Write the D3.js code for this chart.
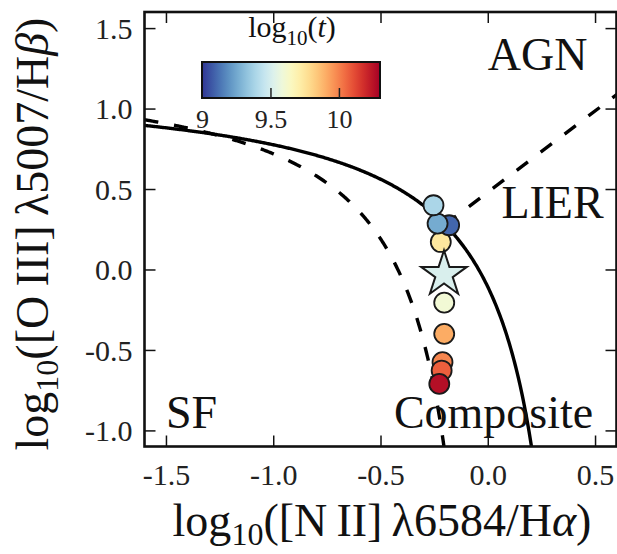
<!DOCTYPE html>
<html>
<head>
<meta charset="utf-8">
<script src="https://cdn.jsdelivr.net/npm/d3@7"></script>
<style>
  body { margin: 0; background: #fff; }
  svg { display: block; }
</style>
</head>
<body>
<svg id="chart" width="617" height="554"></svg>
<script>
// Model snapshots on the BPT diagram, coloured by log10 age
const logNII  = [-0.219, -0.180, -0.234, -0.253, -0.203, -0.203, -0.211, -0.215, -0.226];
const logOIII = [ 0.171,  0.275,  0.285,  0.399, -0.206, -0.400, -0.576, -0.628, -0.711];
const logAge  = [ 9.74,   9.10,   9.26,   9.39,   9.60,   9.91,   9.99,  10.07,  10.26];

// Highlighted snapshot (star)
const starNII  = [-0.204];
const starOIII = [-0.030];
const starAge  = [ 9.51];

// Demarcation lines: y = a / (x - b) + c, and the straight LIER line y = m x + q
const kewley2001    = [0.61, 0.47, 1.19];
const kauffmann2003 = [0.61, 0.05, 1.30];
const lierLine      = [1.01, 0.48];

const xTicks = [-1.5, -1.0, -0.5, 0.0, 0.5];
const yTicks = [-1.0, -0.5, 0.0, 0.5, 1.0, 1.5];
const cbarTicks = [9, 9.5, 10];
const cbarTickLabels = ["9", "9.5", "10"];
const cbarDomain = [9.0, 10.3];

const regionNames = ["AGN", "LIER", "SF", "Composite"];

const svg = d3.select("#chart");
const serif = "'Liberation Serif', 'DejaVu Serif', serif";

const L = 144.5, R = 616.5, T = 12, B = 446.5;
const x = d3.scaleLinear().domain([-1.6, 0.6]).range([L, R]);
const y = d3.scaleLinear().domain([-1.1, 1.6]).range([B, T]);

const cmap = t => d3.interpolateRdYlBu(1 - t);
const color = d3.scaleSequential(cmap).domain(cbarDomain);

svg.append("defs").append("clipPath").attr("id", "plot-clip")
  .append("rect").attr("x", L).attr("y", T).attr("width", R - L).attr("height", B - T);

const plot = svg.append("g").attr("clip-path", "url(#plot-clip)");

// --- demarcation curves
function hyperbola(p, x0, x1, n) {
  const pts = [];
  for (let i = 0; i <= n; i++) {
    const xv = x0 + (x1 - x0) * i / n;
    pts.push([xv, p[0] / (xv - p[1]) + p[2]]);
  }
  return pts;
}
const line = d3.line().x(d => x(d[0])).y(d => y(d[1]));

// end points just below the bottom of the frame
const yBottom = y.domain()[0];
const kewEnd = kewley2001[1] + kewley2001[0] / (yBottom - 0.02 - kewley2001[2]);
const kauEnd = kauffmann2003[1] + kauffmann2003[0] / (yBottom - 0.02 - kauffmann2003[2]);

plot.append("path")
  .attr("d", line(hyperbola(kauffmann2003, -1.6, kauEnd, 400)))
  .attr("fill", "none").attr("stroke", "#000").attr("stroke-width", 3.4)
  .attr("stroke-dasharray", "14,16");

plot.append("path")
  .attr("d", line(hyperbola(kewley2001, -1.6, kewEnd, 400)))
  .attr("fill", "none").attr("stroke", "#000").attr("stroke-width", 3.4);

// LIER line starts where it meets the Kewley curve
{
  const [a, b, c] = kewley2001, [m, q] = lierLine;
  // a/(x-b)+c = m x + q  ->  m x^2 + (q - c - m b) x + (c b - q b - a) = 0
  const A = m, Bq = q - c - m * b, C = c * b - q * b - a;
  const xs = (-Bq - Math.sqrt(Bq * Bq - 4 * A * C)) / (2 * A);
  plot.append("path")
    .attr("d", line([[xs, m * xs + q], [0.7, m * 0.7 + q]]))
    .attr("fill", "none").attr("stroke", "#000").attr("stroke-width", 3.4)
    .attr("stroke-dasharray", "14,16");
}

// --- region names (centre x, baseline y in data units)
const regionPos = [[0.232, 1.24], [0.302, 0.318], [-1.381, -0.982], [0.027, -0.982]];
svg.append("g").selectAll("text").data(regionNames).join("text")
  .attr("x", (d, i) => x(regionPos[i][0]))
  .attr("y", (d, i) => y(regionPos[i][1]))
  .attr("text-anchor", "middle")
  .attr("font-family", serif).attr("font-size", 46).attr("fill", "#111")
  .text(d => d);

// --- snapshots
plot.append("g").selectAll("circle").data(logNII).join("circle")
  .attr("cx", (d, i) => x(logNII[i]))
  .attr("cy", (d, i) => y(logOIII[i]))
  .attr("r", 10)
  .attr("fill", (d, i) => color(logAge[i]))
  .attr("stroke", "#1a1a1a").attr("stroke-width", 1.8);

const starR = 24;
plot.append("g").selectAll("path").data(starNII).join("path")
  .attr("d", d3.symbol(d3.symbolStar, starR * starR / 0.8908130915292852)())
  .attr("transform", (d, i) => `translate(${x(starNII[i])},${y(starOIII[i])})`)
  .attr("fill", (d, i) => color(starAge[i]))
  .attr("stroke", "#1a1a1a").attr("stroke-width", 2);

// --- axes with inward ticks on all four sides
const fmt = d => d.toFixed(1);
function styleAxis(g) {
  g.select(".domain").remove();
  g.selectAll(".tick line").attr("stroke", "#111").attr("stroke-width", 1.5);
  g.selectAll(".tick text").attr("font-family", serif).attr("font-size", 30).attr("fill", "#222");
}
svg.append("g").attr("transform", `translate(0,${B})`)
  .call(d3.axisBottom(x).tickValues(xTicks).tickFormat(fmt).tickSize(-11).tickPadding(0))
  .call(styleAxis)
  .call(g => g.selectAll(".tick text").attr("y", 38).attr("dy", 0));
svg.append("g").attr("transform", `translate(0,${T})`)
  .call(d3.axisTop(x).tickValues(xTicks).tickFormat("").tickSize(-11))
  .call(styleAxis);
svg.append("g").attr("transform", `translate(${L},0)`)
  .call(d3.axisLeft(y).tickValues(yTicks).tickFormat(fmt).tickSize(-11).tickPadding(12))
  .call(styleAxis)
  .call(g => g.selectAll(".tick text").attr("dy", "0.34em"));
svg.append("g").attr("transform", `translate(${R},0)`)
  .call(d3.axisRight(y).tickValues(yTicks).tickFormat("").tickSize(-11))
  .call(styleAxis);

svg.append("rect").attr("x", L).attr("y", T).attr("width", R - L).attr("height", B - T)
  .attr("fill", "none").attr("stroke", "#111").attr("stroke-width", 2.6);

// --- axis titles
function mathLabel(sel, parts, subSize, shift) {
  parts.forEach(p => {
    const t = sel.append("tspan").text(p.t);
    if (p.sub) t.attr("font-size", subSize).attr("dy", shift);
    if (p.up) t.attr("dy", -shift);
    if (p.it) t.attr("font-style", "italic");
  });
}
const xl = svg.append("text").attr("x", 382).attr("y", 536)
  .attr("text-anchor", "middle").attr("font-family", serif).attr("font-size", 46).attr("fill", "#111");
mathLabel(xl, [{t: "log"}, {t: "10", sub: true}, {t: "([N\u2009II]\u2009\u03bb6584/H", up: true}, {t: "\u03b1", it: true}, {t: ")"}], 32, 9);

const yl = svg.append("text").attr("transform", "translate(48,234) rotate(-90)")
  .attr("text-anchor", "middle").attr("font-family", serif).attr("font-size", 46).attr("fill", "#111");
mathLabel(yl, [{t: "log"}, {t: "10", sub: true}, {t: "([O\u2009III]\u2009\u03bb5007/H", up: true}, {t: "\u03b2", it: true}, {t: ")"}], 32, 10);

// --- colour bar
const cbX0 = 202, cbX1 = 380, cbY0 = 62, cbY1 = 98;
const cb = d3.scaleLinear().domain(cbarDomain).range([cbX0, cbX1]);
const grad = svg.select("defs").append("linearGradient").attr("id", "cbar-grad")
  .attr("x1", "0%").attr("x2", "100%").attr("y1", "0%").attr("y2", "0%");
d3.range(0, 1.0001, 0.05).forEach(t => {
  grad.append("stop").attr("offset", `${t * 100}%`).attr("stop-color", cmap(t));
});
svg.append("rect").attr("x", cbX0).attr("y", cbY0).attr("width", cbX1 - cbX0).attr("height", cbY1 - cbY0)
  .attr("fill", "url(#cbar-grad)").attr("stroke", "#111").attr("stroke-width", 2);
svg.append("g").attr("transform", `translate(0,${cbY1})`)
  .call(d3.axisBottom(cb).tickValues(cbarTicks).tickFormat((d, i) => cbarTickLabels[i]).tickSize(-10).tickPadding(0))
  .call(g => g.select(".domain").remove())
  .call(g => g.selectAll(".tick line").attr("stroke", "#222").attr("stroke-width", 1.5)
    .attr("opacity", d => d === cbarDomain[0] ? 0 : 1))
  .call(g => g.selectAll(".tick text").attr("font-family", serif).attr("font-size", 26)
    .attr("fill", "#222").attr("y", 30).attr("dy", 0));

const ct = svg.append("text").attr("x", 292).attr("y", 37)
  .attr("text-anchor", "middle").attr("font-family", serif).attr("font-size", 30).attr("fill", "#111");
mathLabel(ct, [{t: "log"}, {t: "10", sub: true}, {t: "(", up: true}, {t: "t", it: true}, {t: ")"}], 21, 8);
</script>
</body>
</html>
